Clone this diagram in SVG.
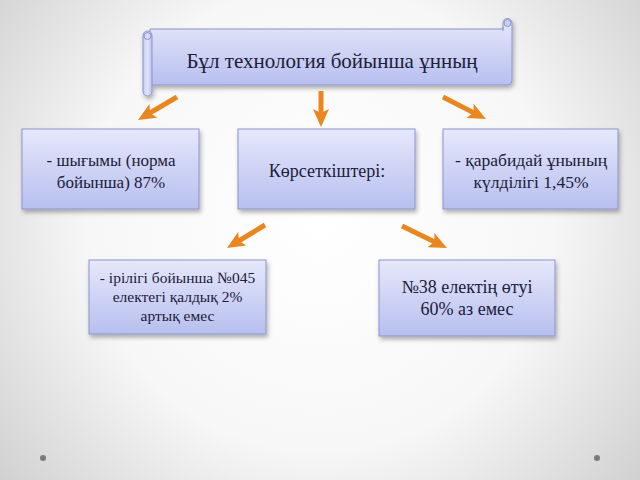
<svg xmlns="http://www.w3.org/2000/svg" width="640" height="480" viewBox="0 0 640 480">
<defs>
<radialGradient id="bg" cx="320" cy="220" r="420" gradientUnits="userSpaceOnUse">
<stop offset="0" stop-color="#ffffff"/>
<stop offset="0.55" stop-color="#f7f7f7"/>
<stop offset="1" stop-color="#cfcfcf"/>
</radialGradient>
<linearGradient id="box" x1="0" y1="0" x2="0" y2="1">
<stop offset="0" stop-color="#e6e8fb"/>
<stop offset="1" stop-color="#b7bfef"/>
</linearGradient>
<linearGradient id="roll" x1="0" y1="0" x2="1" y2="0">
<stop offset="0" stop-color="#c3caf2"/>
<stop offset="0.5" stop-color="#e2e5fa"/>
<stop offset="1" stop-color="#b9c1ef"/>
</linearGradient>
<filter id="sh" x="-10%" y="-10%" width="125%" height="135%">
<feDropShadow dx="1.5" dy="3" stdDeviation="2" flood-color="#000" flood-opacity="0.3"/>
</filter>
<marker id="ah" viewBox="0 -8 18 16" refX="5" refY="0" markerWidth="18" markerHeight="16" orient="auto" markerUnits="userSpaceOnUse">
<path d="M0,-8 L18,0 L0,8 L4,0 Z" fill="#e8871f"/>
</marker>
</defs>
<style>
.bx{fill:url(#box);stroke:#8b94c9;stroke-width:1;filter:url(#sh)}
.ar{stroke:#e8871f;stroke-width:5;fill:none;marker-end:url(#ah)}
</style>
<rect width="640" height="480" fill="url(#bg)"/>
<circle cx="43" cy="458" r="3" fill="#7a7a7a"/>
<circle cx="597" cy="458" r="3" fill="#7a7a7a"/>

<g id="banner" font-family="Liberation Serif, DejaVu Serif, serif" fill="#1c2038" text-anchor="middle">
<g filter="url(#sh)">
<path d="M150,29 H503 V23 A4.5,4.5 0 0 1 512,23 V80 Q512,85 507,85 H150 Z" fill="url(#box)" stroke="#8b94c9" stroke-width="1"/>
<rect x="143" y="31" width="9" height="65" rx="4.5" fill="url(#roll)" stroke="#8b94c9" stroke-width="1"/>
</g>
<circle cx="147.5" cy="36" r="3.5" fill="#d5d9f6" stroke="#8b94c9" stroke-width="1"/>
<circle cx="507.5" cy="23" r="3.5" fill="#c9cff3" stroke="#8b94c9" stroke-width="1"/>
<line x1="503" y1="27" x2="503" y2="31" stroke="#8b94c9" stroke-width="1"/>
<text x="332" y="68" font-size="21">Бұл технология бойынша ұнның</text>
</g>

<g id="connectors">
<line class="ar" x1="177" y1="97" x2="149.2" y2="113.4"/>
<line class="ar" x1="321" y1="91" x2="321" y2="114"/>
<line class="ar" x1="443" y1="97" x2="474.4" y2="113.1"/>
<line class="ar" x1="265" y1="225" x2="238.1" y2="241.3"/>
<line class="ar" x1="402" y1="226" x2="435.3" y2="242.3"/>
</g>

<g id="n1" font-family="Liberation Serif, DejaVu Serif, serif" fill="#1c2038" text-anchor="middle">
<rect class="bx" x="22" y="129" width="177" height="80"/>
<text x="111" y="166" font-size="17">- шығымы (норма</text>
<text x="111" y="188" font-size="17">бойынша) 87%</text>
</g>
<g id="n2" font-family="Liberation Serif, DejaVu Serif, serif" fill="#1c2038" text-anchor="middle">
<rect class="bx" x="238" y="129" width="177" height="80"/>
<text x="327" y="177" font-size="18">Көрсеткіштері:</text>
</g>
<g id="n3" font-family="Liberation Serif, DejaVu Serif, serif" fill="#1c2038" text-anchor="middle">
<rect class="bx" x="443" y="129" width="175" height="80"/>
<text x="531" y="166" font-size="17.5">- қарабидай ұнының</text>
<text x="531" y="188" font-size="17.5">күлділігі 1,45%</text>
</g>
<g id="n4" font-family="Liberation Serif, DejaVu Serif, serif" fill="#1c2038" text-anchor="middle">
<rect class="bx" x="89" y="260" width="177" height="74"/>
<text x="177.5" y="283" font-size="15.5">- ірілігі бойынша №045</text>
<text x="177.5" y="302" font-size="15.5">електегі қалдық 2%</text>
<text x="177.5" y="321" font-size="15.5">артық емес</text>
</g>
<g id="n5" font-family="Liberation Serif, DejaVu Serif, serif" fill="#1c2038" text-anchor="middle">
<rect class="bx" x="379" y="260" width="176" height="76"/>
<text x="467" y="293" font-size="18">№38 електің өтуі</text>
<text x="467" y="315" font-size="18">60% аз емес</text>
</g>
</svg>
